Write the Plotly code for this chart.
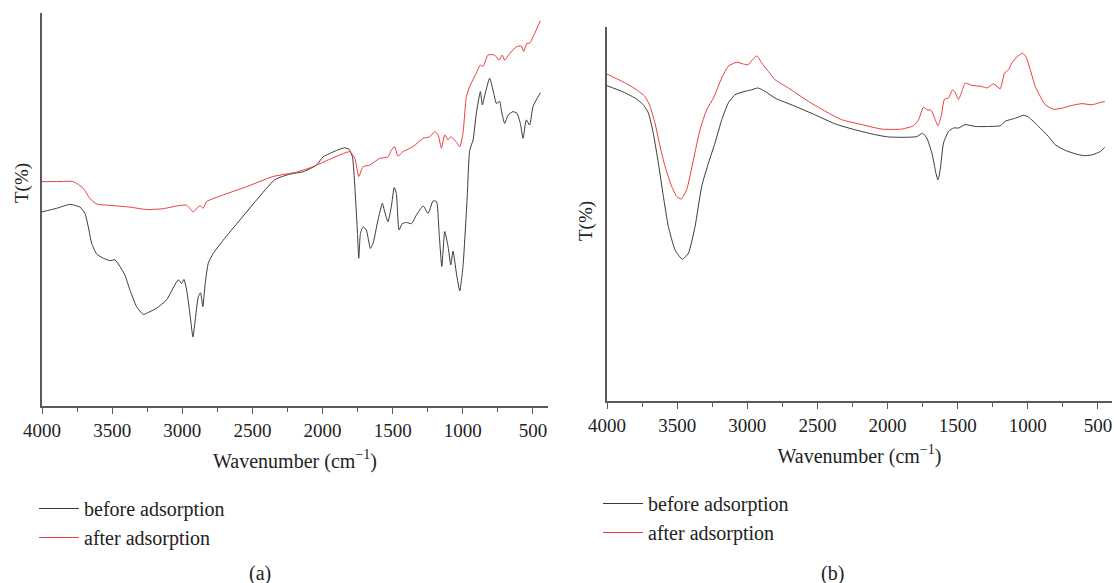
import plotly.graph_objects as go

# ---------------- Panel (a) data ----------------
a_before_wn = [4000, 3896, 3801, 3729, 3694, 3670, 3646, 3611, 3563, 3516, 3480, 3444, 3409, 3373, 3326,
               3278, 3231, 3183, 3112, 3029, 3005, 2988, 2969, 2946, 2924, 2905, 2886, 2870, 2853, 2839,
               2815, 2780, 2708, 2590, 2471, 2340, 2233, 2138, 2043, 1996, 1901, 1842, 1811, 1787, 1770,
               1751, 1742, 1730, 1711, 1688, 1659, 1640, 1605, 1574, 1557, 1534, 1510, 1489, 1474, 1455,
               1432, 1402, 1366, 1331, 1283, 1248, 1212, 1188, 1169, 1150, 1129, 1105, 1086, 1070, 1046,
               1022, 999, 970, 951, 927, 904, 875, 861, 840, 809, 780, 761, 737, 726, 702, 678, 643, 614,
               590, 571, 548, 524, 500, 476, 448]
a_before_t = [49.4, 50.3, 51.3, 50.6, 49.0, 45.6, 41.4, 38.7, 37.6, 37.0, 37.2, 35.5, 33.3, 29.5, 25.3,
              23.3, 24.0, 24.9, 27.0, 32.1, 31.2, 32.2, 29.5, 23.6, 17.6, 22.7, 27.8, 28.8, 25.3, 30.4,
              36.3, 38.8, 42.2, 47.3, 52.4, 57.6, 59.0, 59.6, 61.3, 63.4, 65.0, 65.7, 65.3, 63.4, 55.8,
              43.9, 37.6, 43.9, 45.6, 44.8, 40.1, 41.4, 47.3, 51.6, 49.4, 46.9, 50.7, 55.6, 54.1, 44.8,
              46.4, 46.7, 46.4, 48.6, 50.9, 49.0, 52.2, 52.0, 43.9, 35.5, 44.4, 40.5, 35.9, 39.4, 33.8,
              29.3, 35.5, 52.4, 65.1, 67.7, 74.5, 80.0, 76.6, 79.6, 83.4, 79.6, 77.0, 77.5, 75.3, 71.9,
              74.0, 74.9, 74.5, 71.9, 68.1, 72.8, 71.5, 76.2, 77.9, 79.7]

a_after_wn = [4000, 3896, 3777, 3706, 3658, 3611, 3492, 3373, 3254, 3136, 3041, 2969, 2922, 2886, 2870,
              2851, 2827, 2708, 2542, 2352, 2186, 2067, 1948, 1806, 1770, 1742, 1711, 1664, 1593, 1534,
              1510, 1486, 1463, 1427, 1355, 1283, 1236, 1200, 1176, 1153, 1129, 1105, 1089, 1058, 1022,
              999, 975, 951, 904, 875, 856, 821, 773, 743, 719, 702, 666, 619, 583, 567, 543, 524, 488, 448]
a_after_t = [57.1, 57.1, 57.1, 55.4, 52.8, 51.4, 51.0, 50.6, 50.0, 50.2, 50.9, 51.1, 49.4, 50.7, 50.9,
             50.3, 52.0, 53.7, 55.8, 58.4, 59.5, 60.9, 62.8, 64.7, 63.0, 58.4, 60.9, 61.3, 63.0, 63.4,
             65.1, 66.0, 63.6, 64.7, 66.0, 68.1, 68.5, 69.8, 69.0, 65.6, 69.0, 67.7, 68.5, 67.7, 66.0,
             69.4, 78.7, 81.3, 84.7, 86.8, 86.4, 89.3, 89.3, 88.0, 89.3, 88.0, 89.7, 91.4, 91.6, 90.2,
             92.3, 92.3, 94.8, 98.0]

# ---------------- Panel (b) data ----------------
b_before_wn = [4000, 3895, 3800, 3741, 3705, 3670, 3634, 3598, 3563, 3515, 3463, 3420, 3372, 3325, 3277,
               3230, 3182, 3135, 3087, 3016, 2968, 2925, 2873, 2802, 2659, 2516, 2374, 2231, 2088, 1993,
               1874, 1791, 1751, 1720, 1684, 1655, 1641, 1625, 1601, 1565, 1530, 1494, 1446, 1375, 1280,
               1197, 1161, 1090, 1030, 995, 923, 852, 804, 733, 662, 602, 543, 483, 452]
b_before_t = [84.3, 82.8, 81.0, 79.2, 77.0, 71.6, 63.6, 54.7, 46.7, 40.4, 37.9, 39.5, 46.7, 57.4, 63.6,
              69.0, 75.2, 79.7, 81.9, 82.8, 83.2, 83.7, 82.8, 81.0, 78.8, 76.5, 74.1, 72.5, 71.2, 70.6,
              70.5, 70.7, 71.6, 70.3, 66.3, 60.9, 59.1, 61.8, 69.0, 72.1, 73.0, 73.0, 73.9, 73.4, 73.4,
              73.6, 74.8, 75.6, 76.4, 75.9, 73.4, 70.7, 68.5, 67.0, 66.1, 65.6, 65.8, 66.7, 67.8]

b_after_wn = [4000, 3895, 3800, 3729, 3693, 3658, 3622, 3586, 3539, 3503, 3472, 3432, 3384, 3337, 3289,
              3241, 3182, 3135, 3075, 3027, 2992, 2963, 2932, 2897, 2849, 2802, 2707, 2564, 2421, 2326,
              2183, 2041, 1898, 1815, 1779, 1744, 1720, 1689, 1660, 1641, 1617, 1594, 1565, 1537, 1518,
              1494, 1470, 1446, 1399, 1328, 1292, 1244, 1197, 1166, 1137, 1114, 1078, 1037, 1013, 983,
              947, 911, 876, 816, 757, 690, 614, 543, 495, 452]
b_after_t = [87.4, 85.5, 83.5, 81.4, 78.8, 74.3, 68.1, 62.7, 57.4, 54.7, 54.0, 56.5, 64.5, 72.5, 77.9,
             81.0, 86.4, 89.5, 90.6, 90.1, 89.9, 91.3, 92.3, 90.4, 88.1, 85.9, 83.7, 80.1, 77.0, 75.2,
             73.9, 72.7, 72.7, 73.6, 75.2, 78.6, 77.9, 77.7, 75.2, 73.6, 76.3, 80.7, 81.0, 83.2, 82.5,
             80.6, 82.8, 85.0, 84.4, 84.1, 83.7, 84.8, 83.5, 87.7, 88.6, 90.4, 92.0, 93.0, 92.0, 88.6,
             84.1, 81.4, 79.2, 78.0, 78.3, 79.0, 79.5, 79.2, 79.7, 80.1]

tick_vals = [4000, 3500, 3000, 2500, 2000, 1500, 1000, 500]
tick_text = ["4000", "3500", "3000", "2500", "2000", "1500", "1000", "500"]

series_names = ["before adsorption", "after adsorption"]
BLACK = "#3a3a3a"
RED = "#ee3b3b"
FONT = "Liberation Serif, Times New Roman, serif"
TXT = "#222222"
AXIS_COLOR = "#5a5a5a"

fig = go.Figure()


def add_line(x, y, name, color, xa, ya, leg):
    fig.add_trace(go.Scatter(x=x, y=y, mode="lines", name=name,
                             line=dict(color=color, width=1, shape="spline", smoothing=0.5),
                             xaxis=xa, yaxis=ya, legend=leg))


add_line(a_before_wn, a_before_t, series_names[0], BLACK, "x", "y", "legend")
add_line(a_after_wn, a_after_t, series_names[1], RED, "x", "y", "legend")
add_line(b_before_wn, b_before_t, series_names[0], BLACK, "x2", "y2", "legend2")
add_line(b_after_wn, b_after_t, series_names[1], RED, "x2", "y2", "legend2")

W, H = 1114, 583


def xaxis_cfg(x0, x1, rng_end):
    return dict(
        domain=[x0 / W, x1 / W], range=[4000, rng_end], autorange=False,
        showline=True, linecolor=AXIS_COLOR, linewidth=1.5, mirror=False,
        showgrid=False, zeroline=False, automargin=False,
        ticks="outside", ticklen=6, tickwidth=1.2, tickcolor=AXIS_COLOR,
        tickvals=tick_vals, ticktext=tick_text,
        tickfont=dict(family=FONT, size=19, color=TXT),
        minor=dict(ticks="outside", ticklen=4, tickwidth=1.2, tickcolor=AXIS_COLOR, dtick=250,
                   showgrid=False),
        title=dict(text="Wavenumber (cm<sup>−1</sup>)", font=dict(family=FONT, size=20, color=TXT),
                   standoff=14),
    )


def yaxis_cfg(ytop, ybot, anchor):
    return dict(
        domain=[1 - ybot / H, 1 - ytop / H], range=[0, 100], autorange=False,
        showline=True, linecolor=AXIS_COLOR, linewidth=1.5, automargin=False,
        showgrid=False, zeroline=False, showticklabels=False, ticks="",
        anchor=anchor,
    )


legend_common = dict(xanchor="left", yanchor="top",
                     font=dict(family=FONT, size=20, color=TXT), bgcolor="rgba(0,0,0,0)",
                     tracegroupgap=0, itemwidth=40)


def label(text, px, py, angle=0, size=20):
    return dict(text=text, x=px / W, y=1 - py / H, xref="paper", yref="paper", showarrow=False,
                xanchor="center", yanchor="middle", textangle=angle,
                font=dict(family=FONT, size=size, color=TXT))


fig.update_layout(
    width=W, height=H,
    margin=dict(l=0, r=0, t=0, b=0, autoexpand=False),
    font=dict(family=FONT, color=TXT),
    paper_bgcolor="white", plot_bgcolor="white",
    xaxis=dict(**xaxis_cfg(42, 548, 393), anchor="y"),
    yaxis=yaxis_cfg(13, 406, "x"),
    xaxis2=dict(**xaxis_cfg(607, 1112, 400), anchor="y2"),
    yaxis2=yaxis_cfg(27, 401, "x2"),
    legend=dict(x=34 / W, y=1 - 489 / H, **legend_common),
    legend2=dict(x=598 / W, y=1 - 484 / H, **legend_common),
    showlegend=True,
    annotations=[
        label("T(%)", 22, 183, -90, 19),
        label("T(%)", 586, 221, -90, 19),
        label("(a)", 260, 573),
        label("(b)", 832, 573),
    ],
)

fig.write_html("out.html")
